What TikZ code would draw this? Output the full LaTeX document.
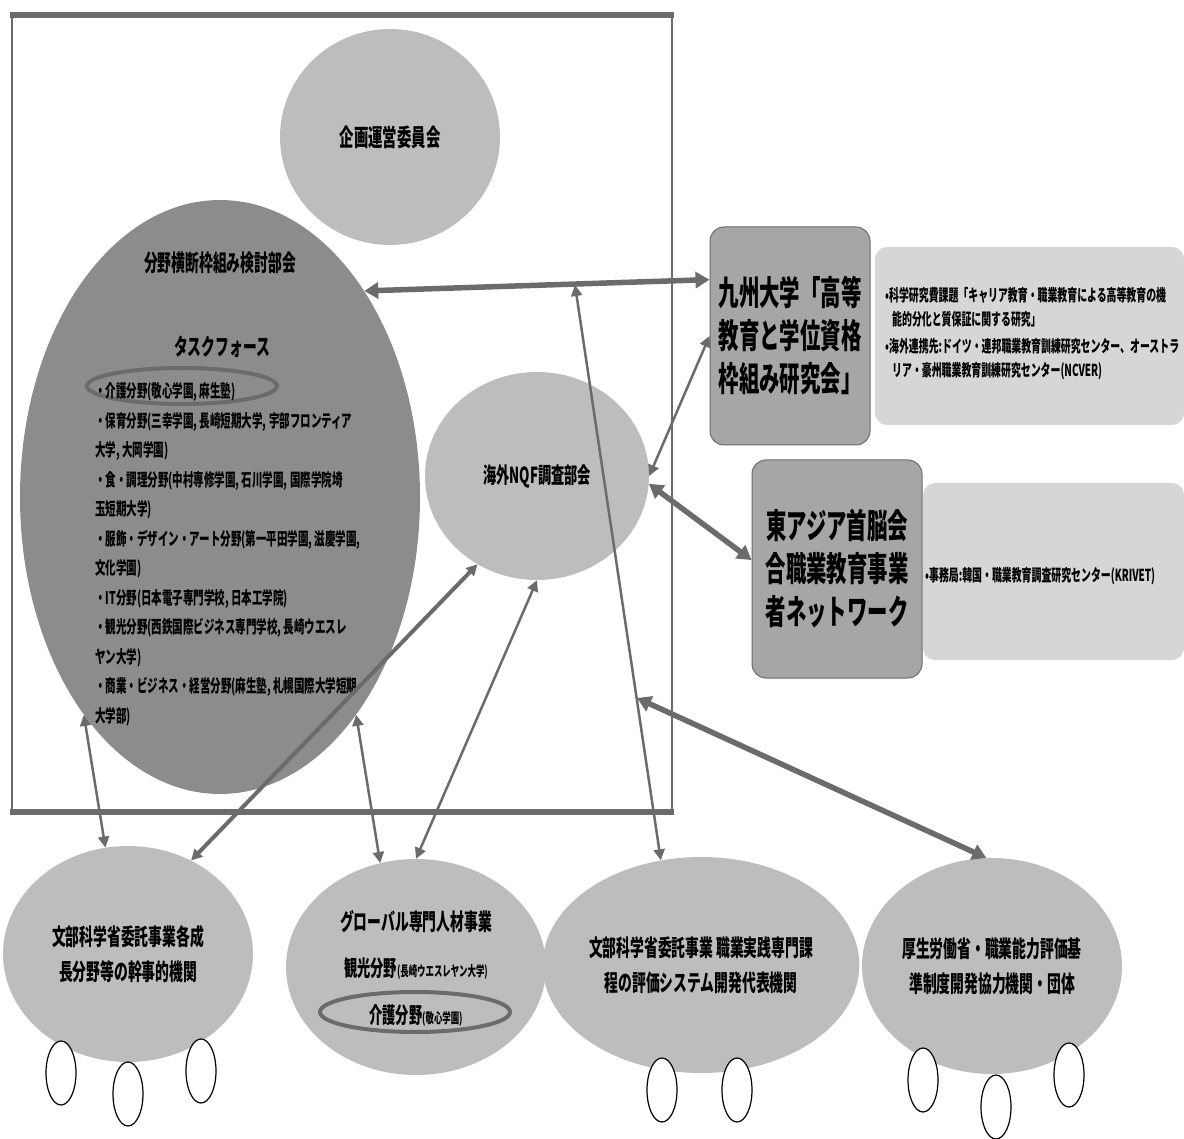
\documentclass[tikz,border=0pt]{standalone}
\usepackage{fontspec}
\setmainfont{Noto Sans CJK JP}[FakeStretch=0.6]
\usetikzlibrary{shapes.geometric,arrows.meta}

\definecolor{bubblegray}{HTML}{BDBDBD}
\definecolor{darkgray}{HTML}{8C8C8C}
\definecolor{panelgray}{HTML}{A6A6A6}
\definecolor{notegray}{HTML}{D6D6D6}
\definecolor{linegray}{HTML}{6B6B6B}

\newcommand{\fsz}[2]{\fontsize{#1}{#2}\selectfont\bfseries}

\begin{document}
\begin{tikzpicture}[x=1pt,y=-1pt,
    bubble/.style={ellipse,fill=bubblegray,inner sep=0pt},
    panel/.style={rectangle,rounded corners=14pt,fill=panelgray,draw=linegray,line width=1pt,inner sep=0pt,align=center,font=\fsz{34}{43}},
    note/.style={rectangle,rounded corners=12pt,fill=notegray,inner sep=0pt},
    member/.style={ellipse,draw=black,fill=white,line width=1.2pt,minimum width=30pt,minimum height=64pt,inner sep=0pt},
    hilite/.style={ellipse,draw=linegray,line width=4pt,inner sep=0pt},
    link/.style={draw=linegray,line width=2.5pt,{Triangle[length=11pt,width=11pt]}-{Triangle[length=11pt,width=11pt]}},
    biglink/.style={draw=linegray,line width=5.5pt,{Triangle[length=14pt,width=16pt]}-{Triangle[length=14pt,width=16pt]}}]
  \useasboundingbox (0,0) rectangle (1184,1139);

  % frame of the project
  \draw[linegray,line width=2.5pt] (12,15) rectangle (672,812);
  \draw[linegray,line width=6pt] (10,15) -- (674,15);
  \draw[linegray,line width=6pt] (10,812) -- (674,812);

  \node[bubble,minimum width=220pt,minimum height=216pt,font=\fsz{24}{30}] (kikaku) at (390,137) {企画運営委員会};

  \node[ellipse,fill=darkgray,inner sep=0pt,minimum width=400pt,minimum height=594pt] (bunya) at (220,497) {};
  \node[font=\fsz{23}{28}] (bunyattl) at (220,263) {分野横断枠組み検討部会};
  \node[font=\fsz{23}{28}] (tforce) at (222,347) {タスクフォース};
  \node[hilite,minimum width=190pt,minimum height=36pt] (hlkaigo) at (182,386) {};
  \node[anchor=west,align=left,inner sep=0pt,font=\fsz{17.5}{29.5}] (tflist) at (95,554.5) {%
    ・介護分野(敬心学園, 麻生塾)\\
    ・保育分野(三幸学園, 長崎短期大学, 宇部フロンティア\\
    大学, 大岡学園)\\
    ・食・調理分野(中村専修学園, 石川学園, 国際学院埼\\
    玉短期大学)\\
    ・服飾・デザイン・アート分野(第一平田学園, 滋慶学園,\\
    文化学園)\\
    ・IT分野(日本電子専門学校, 日本工学院)\\
    ・観光分野(西鉄国際ビジネス専門学校, 長崎ウエスレ\\
    ヤン大学)\\
    ・商業・ビジネス・経営分野(麻生塾, 札幌国際大学短期\\
    大学部)};

  \node[bubble,minimum width=224pt,minimum height=208pt,font=\fsz{22}{28}] (nqf) at (537,476) {海外NQF調査部会};

  % partners on the right
  \node[note,minimum width=309pt,minimum height=178pt] (kyinfo) at (1029.5,336) {};
  \node[panel,minimum width=160pt,minimum height=218pt] (kyushu) at (790,336) {九州大学「高等\\教育と学位資格\\枠組み研究会」};
  \node[anchor=west,align=left,inner sep=0pt,font=\fsz{16.5}{24}] (kytext) at (885,333.5) {%
    •科学研究費課題「キャリア教育・職業教育による高等教育の機\\
    \hspace*{7pt}能的分化と質保証に関する研究」\\[3pt]
    •海外連携先:ドイツ・連邦職業教育訓練研究センター、オーストラ\\
    \hspace*{7pt}リア・豪州職業教育訓練研究センター(NCVER)};

  \node[note,minimum width=261pt,minimum height=177pt] (eainfo) at (1053.5,571.5) {};
  \node[panel,minimum width=170pt,minimum height=218pt] (easia) at (837,569) {東アジア首脳会\\合職業教育事業\\者ネットワーク};
  \node[anchor=west,inner sep=0pt,font=\fsz{16.5}{24}] (eatext) at (925,576) {•事務局:韓国・職業教育調査研究センター(KRIVET)};

  % bodies at the bottom
  \node[bubble,minimum width=250pt,minimum height=216pt,align=center,font=\fsz{23}{35}] (moa) at (128,954) {文部科学省委託事業各成\\長分野等の幹事的機関};
  \node[bubble,minimum width=260pt,minimum height=216pt] (gjinzai) at (416,967) {};
  \node[font=\fsz{23}{28}] (gjttl) at (416,922) {グローバル専門人材事業};
  \node[font=\fsz{22}{28}] (gjkanko) at (416,968) {観光分野{\fsz{14}{16}(長崎ウエスレヤン大学)}};
  \node[hilite,minimum width=190pt,minimum height=40pt] (hlgj) at (415,1012) {};
  \node[font=\fsz{22}{28}] (gjkaigo) at (416,1015) {介護分野{\fsz{14}{16}(敬心学園)}};
  \node[bubble,minimum width=260pt,minimum height=216pt,align=center,font=\fsz{23}{35}] (cmofa) at (701,965) {文部科学省委託事業 職業実践専門課\\程の評価システム開発代表機関};
  \node[bubble,minimum width=260pt,minimum height=216pt,align=center,font=\fsz{23}{35}] (mhlw) at (992,966) {厚生労働省・職業能力評価基\\準制度開発協力機関・団体};

  \node[member] (moa1) at (61,1073) {};
  \node[member] (moa2) at (128,1094) {};
  \node[member] (moa3) at (201,1071) {};
  \node[member] (cmofa1) at (662,1090) {};
  \node[member] (cmofa2) at (737,1090) {};
  \node[member] (mhlw1) at (923,1080) {};
  \node[member] (mhlw2) at (996,1107) {};
  \node[member] (mhlw3) at (1069,1075) {};

  \coordinate (hub) at (575,285);
  \coordinate (cross) at (637,698);

  % links
  \draw[biglink] (bunya.55) -- (kyushu.145);
  \draw[link] (kyushu.west) -- (nqf.east);
  \draw[biglink] (nqf.-4) -- (easia.174);
  \draw[link] (hub) -- (cmofa.111);
  \draw[biglink] (cross) -- (mhlw.93);
  \draw[link] (moa.102) -- (bunya.238);
  \draw[link,line width=4pt] (moa.56) -- (nqf.236);
  \draw[link] (bunya.302) -- (gjinzai.109);
  \draw[link] (gjinzai.north) -- (nqf.south);
\end{tikzpicture}
\end{document}
